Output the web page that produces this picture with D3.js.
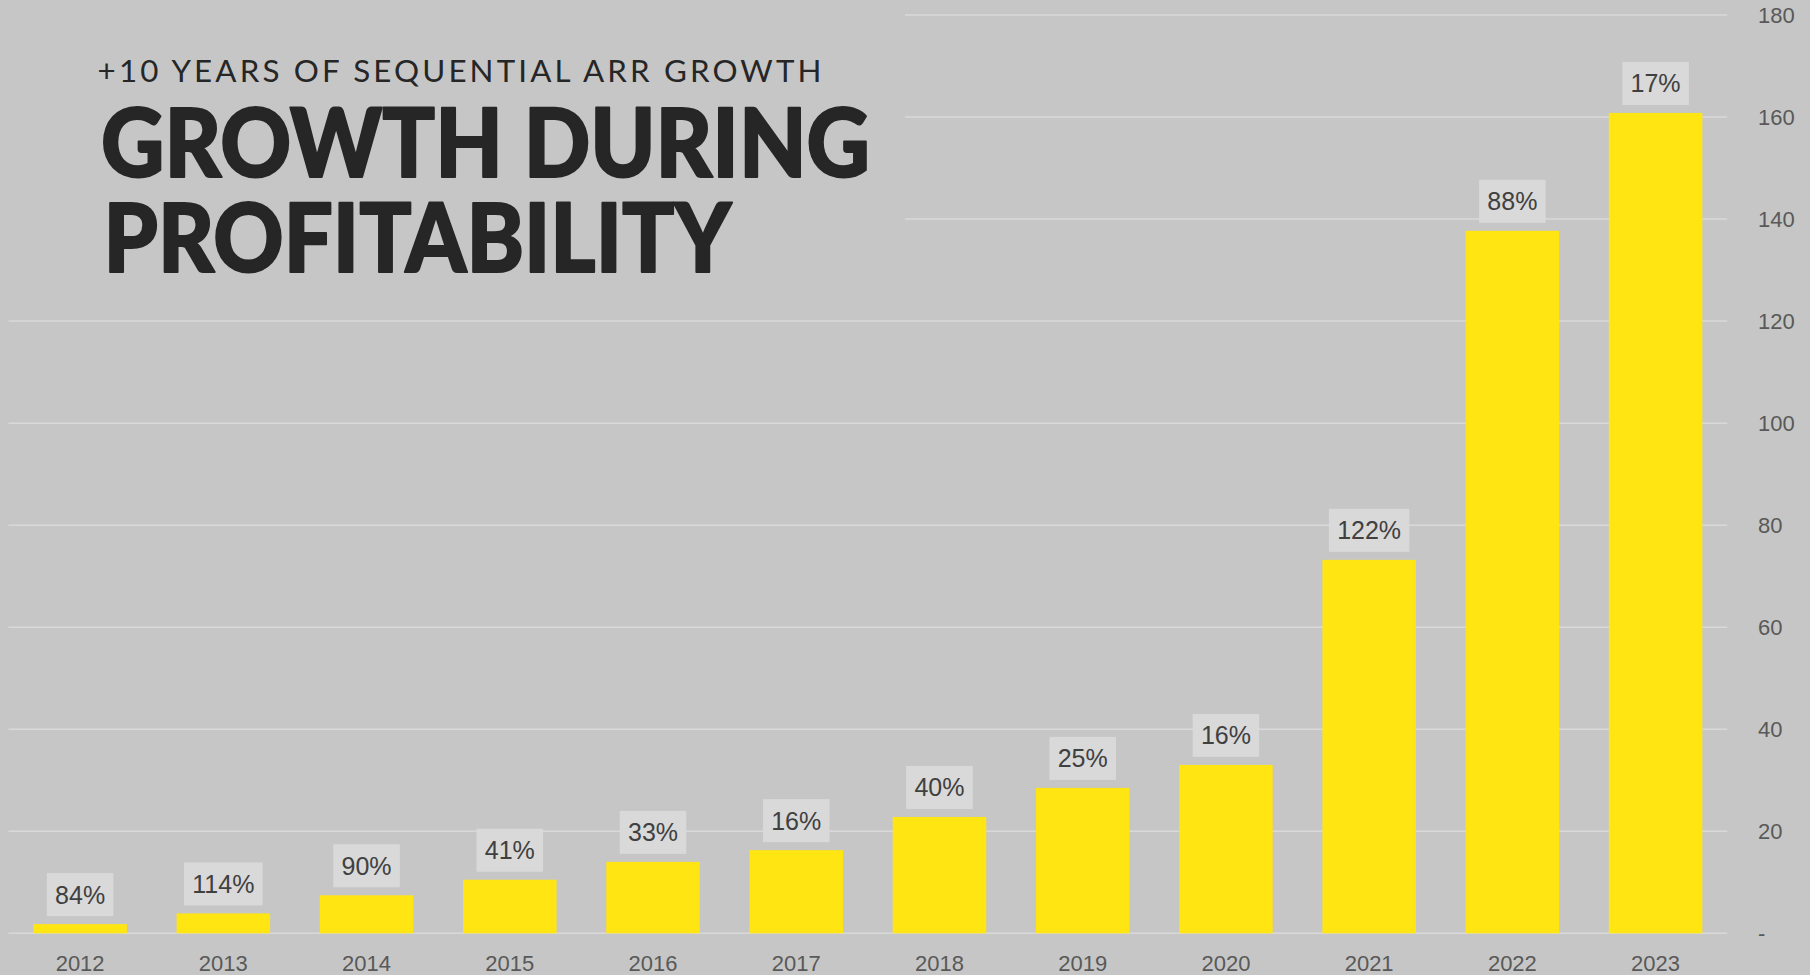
<!DOCTYPE html>
<html><head><meta charset="utf-8">
<script src="https://cdn.jsdelivr.net/npm/d3@7"></script>
<style>html,body{margin:0;padding:0;background:#c6c6c6;overflow:hidden}</style>
</head><body>
<svg id="c" width="1810" height="975"></svg>
<script>
const years = ["2012","2013","2014","2015","2016","2017","2018","2019","2020","2021","2022","2023"];
const arr = [1.8, 3.9, 7.45, 10.5, 14.0, 16.3, 22.8, 28.5, 33.0, 73.2, 137.7, 160.8];
const growth = ["84%","114%","90%","41%","33%","16%","40%","25%","16%","122%","88%","17%"];
const yTicks = [0,20,40,60,80,100,120,140,160,180];
const subtitle = "+10 YEARS OF SEQUENTIAL ARR GROWTH";
const titleLines = ["GROWTH DURING","PROFITABILITY"];

(function(){
const svg = d3.select("#c");
const W = 1810, H = 975;
svg.append("rect").attr("width",W).attr("height",H).attr("fill","#c6c6c6");

const pLeft = 8.5, pRight = 1727.2, pTop = 15, pBottom = 933.3;
const pad = 0.347;
const x = d3.scaleBand().domain(years).range([pLeft,pRight]).paddingInner(pad).paddingOuter(pad/2);
const y = d3.scaleLinear().domain([0,180]).range([pBottom,pTop]);

// gridlines
svg.append("g").selectAll("line").data(yTicks).join("line")
  .attr("x1",pLeft).attr("x2",pRight)
  .attr("y1",d=>y(d)).attr("y2",d=>y(d))
  .attr("stroke","#d9d9d9").attr("stroke-width",1.5);

// right axis labels
const yAxis = d3.axisRight(y).tickValues(yTicks).tickSize(0).tickPadding(0)
  .tickFormat(d=> d===0 ? "-" : d);
const ya = svg.append("g").attr("transform",`translate(1758,0)`).call(yAxis);
ya.select(".domain").remove();
ya.selectAll("text").attr("fill","#595959").style("font-family","'Liberation Sans', Arial, sans-serif").style("font-size","22px").attr("x",0);

// title box covering gridlines
svg.append("rect").attr("x",0).attr("y",0).attr("width",905).attr("height",290).attr("fill","#c6c6c6");

// bars
svg.append("g").selectAll("rect").data(years).join("rect")
  .attr("x",d=>x(d)).attr("width",x.bandwidth())
  .attr("y",(d,i)=>y(arr[i])).attr("height",(d,i)=>y(0)-y(arr[i]))
  .attr("fill","#ffe511");

// x axis labels
const xAxis = d3.axisBottom(x).tickSize(0).tickPadding(0);
const xa = svg.append("g").attr("transform",`translate(0,${pBottom})`).call(xAxis);
xa.select(".domain").remove();
xa.selectAll("text").attr("fill","#595959").style("font-family","'Liberation Sans', Arial, sans-serif")
  .style("font-size","22px").attr("dy",null).attr("y",38);

// data labels with boxes
const lg = svg.append("g");
years.forEach((yr,i)=>{
  const cx = x(yr) + x.bandwidth()/2;
  const by = y(arr[i]) - 8;
  const g = lg.append("g");
  const r = g.append("rect").attr("fill","#d9d9d9");
  const t = g.append("text").text(growth[i]).attr("x",cx).attr("y",by-43/2+9)
    .attr("text-anchor","middle").attr("fill","#404040")
    .style("font-family","'Liberation Sans', Arial, sans-serif").style("font-size","25px");
  const w = t.node().getComputedTextLength() + 16.5;
  r.attr("x",cx-w/2).attr("y",by-43).attr("width",w).attr("height",43);
});

// titles
svg.append("text").text(subtitle).attr("x",97.6).attr("y",81.7)
  .attr("fill","#262626").style("font-family","Lato, 'Noto Sans', sans-serif").style("font-size","30px")
  .style("letter-spacing","3px").attr("textLength",727).attr("lengthAdjust","spacingAndGlyphs");
svg.append("text").text(titleLines[0]).attr("x",101).attr("y",177)
  .attr("fill","#262626").attr("stroke","#262626").attr("stroke-width",2).attr("stroke-linejoin","round")
  .style("font-family","Lato, 'Noto Sans', sans-serif").style("font-size","96px").style("font-weight","900")
  .attr("textLength",769).attr("lengthAdjust","spacingAndGlyphs");
svg.append("text").text(titleLines[1]).attr("x",103.5).attr("y",272)
  .attr("fill","#262626").attr("stroke","#262626").attr("stroke-width",2).attr("stroke-linejoin","round")
  .style("font-family","Lato, 'Noto Sans', sans-serif").style("font-size","96px").style("font-weight","900")
  .attr("textLength",628).attr("lengthAdjust","spacingAndGlyphs");
})();
</script>
</body></html>
